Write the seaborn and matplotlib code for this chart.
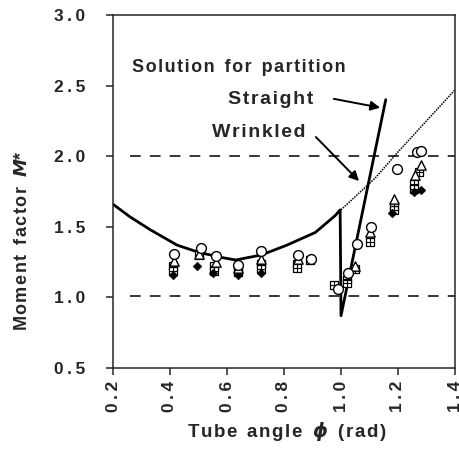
import matplotlib
matplotlib.use("Agg")
import matplotlib.pyplot as plt
import seaborn as sns
import pandas as pd

# solution curve for partition (straight)
curve_x = [0.2, 0.26, 0.33, 0.425, 0.5, 0.575, 0.63, 0.72, 0.81, 0.91, 0.98, 0.997, 1.0, 1.157]
curve_y = [1.66, 1.57, 1.48, 1.37, 1.32, 1.285, 1.265, 1.30, 1.37, 1.46, 1.58, 1.62, 0.87, 2.40]

# wrinkled partition (dotted)
wrinkled_x = [1.0, 1.12, 1.2, 1.3, 1.4]
wrinkled_y = [1.62, 1.845, 2.03, 2.25, 2.47]

# experimental points
circle_x = [0.415, 0.51, 0.56, 0.64, 0.72, 0.85, 0.895, 0.99, 1.025, 1.055, 1.105, 1.195, 1.265, 1.28]
circle_y = [1.31, 1.35, 1.29, 1.23, 1.33, 1.30, 1.27, 1.06, 1.17, 1.38, 1.50, 1.91, 2.03, 2.04]

triangle_x = [0.415, 0.50, 0.56, 0.64, 0.72, 0.85, 1.05, 1.10, 1.185, 1.26, 1.28]
triangle_y = [1.26, 1.31, 1.25, 1.21, 1.27, 1.27, 1.22, 1.46, 1.70, 1.87, 1.94]

square_x = [0.41, 0.50, 0.555, 0.64, 0.72, 0.845, 0.89, 0.975, 1.02, 1.05, 1.10, 1.185, 1.255, 1.275]
square_y = [1.22, 1.30, 1.22, 1.20, 1.24, 1.24, 1.265, 1.09, 1.12, 1.20, 1.39, 1.65, 1.80, 1.89]

square2_x = [0.41, 0.555, 0.64, 0.72, 0.845, 1.02, 1.185, 1.255]
square2_y = [1.19, 1.19, 1.18, 1.20, 1.21, 1.10, 1.62, 1.77]

diamond_x = [0.41, 0.495, 0.55, 0.64, 0.72, 1.18, 1.255, 1.28]
diamond_y = [1.16, 1.22, 1.17, 1.16, 1.17, 1.60, 1.75, 1.76]

limits = [1.01, 2.0]
xticks = [0.2, 0.4, 0.6, 0.8, 1.0, 1.2, 1.4]
yticks = [0.5, 1.0, 1.5, 2.0, 2.5, 3.0]

sns.set_style("ticks")
plt.rcParams['font.family'] = ['Liberation Sans', 'DejaVu Sans']
plt.rcParams['font.weight'] = 'bold'


def spaced(s, sep='\u200a'):
    # letter spacing, words kept apart by a double space
    return '  '.join(sep.join(w) for w in s.split(' '))


fig = plt.figure(figsize=(4.59, 4.53), dpi=100)
ax = fig.add_axes([113 / 459, 85 / 453, 342 / 459, 353 / 453])

for lim in limits:
    ax.plot([0.26, 1.4], [lim, lim], color='black', lw=1.1, dashes=(7, 6))

sns.lineplot(x=curve_x, y=curve_y, sort=False, color='black', lw=2.0, ax=ax)
sns.lineplot(x=wrinkled_x, y=wrinkled_y, sort=False, color='black', lw=1.1,
             linestyle=(0, (1, 0.7)), ax=ax)

sq = pd.DataFrame({'x': square_x + square2_x, 'y': square_y + square2_y})
sns.scatterplot(data=sq, x='x', y='y', marker='s', s=36, facecolor='white',
                edgecolor='black', linewidth=0.9, ax=ax, zorder=3)
sns.scatterplot(data=sq, x='x', y='y', marker='+', s=36, color='black',
                linewidth=0.8, ax=ax, zorder=4)
sns.scatterplot(x=diamond_x, y=diamond_y, marker='D', s=20, color='black',
                edgecolor='black', ax=ax, zorder=3)
sns.scatterplot(x=triangle_x, y=triangle_y, marker='^', s=45, facecolor='white',
                edgecolor='black', linewidth=1.0, ax=ax, zorder=5)
sns.scatterplot(x=circle_x, y=circle_y, marker='o', s=50, facecolor='white',
                edgecolor='black', linewidth=1.0, ax=ax, zorder=6)

ax.text(0.268, 2.63, spaced('Solution for partition'), fontsize=13,
        fontweight='bold', ha='left', va='center')
ax.text(0.902, 2.405, spaced('Straight'), fontsize=14, fontweight='bold',
        ha='right', va='center')
ax.text(0.874, 2.17, spaced('Wrinkled'), fontsize=14, fontweight='bold',
        ha='right', va='center')
ax.annotate('', xy=(1.147, 2.34), xytext=(0.965, 2.41),
            arrowprops=dict(arrowstyle='-|>', color='black', lw=1.4,
                            mutation_scale=14))
ax.annotate('', xy=(1.07, 1.81), xytext=(0.905, 2.15),
            arrowprops=dict(arrowstyle='-|>', color='black', lw=1.4,
                            mutation_scale=14))

ax.set_xlim(0.2, 1.4)
ax.set_ylim(0.5, 3.0)
ax.set_xticks(xticks, labels=[spaced(f'{v:.1f}', '\u2009') for v in xticks],
              rotation=90)
ax.set_yticks(yticks, labels=[spaced(f'{v:.1f}', '\u2009') for v in yticks])
ax.tick_params(direction='out', length=5, width=1.1, labelsize=12.5)
ax.tick_params(axis='y', pad=15)
ax.tick_params(axis='x', pad=4)
for lab in ax.get_xticklabels() + ax.get_yticklabels():
    lab.set_fontweight('bold')
for sp in ax.spines.values():
    sp.set_visible(True)
    sp.set_linewidth(1.1)

ax.set_xlabel(spaced('Tube angle') + '  $\\phi$  ' + spaced('(rad)'),
              fontsize=13.5, fontweight='bold')
ax.set_ylabel(spaced('Moment factor') + '  $\\mathbf{\\mathit{M}}$*',
              fontsize=13, fontweight='bold')
ax.xaxis.set_label_coords(0.509, -0.15)
ax.yaxis.set_label_coords(-0.24, 0.36)

fig.savefig('out.png', dpi=100)
